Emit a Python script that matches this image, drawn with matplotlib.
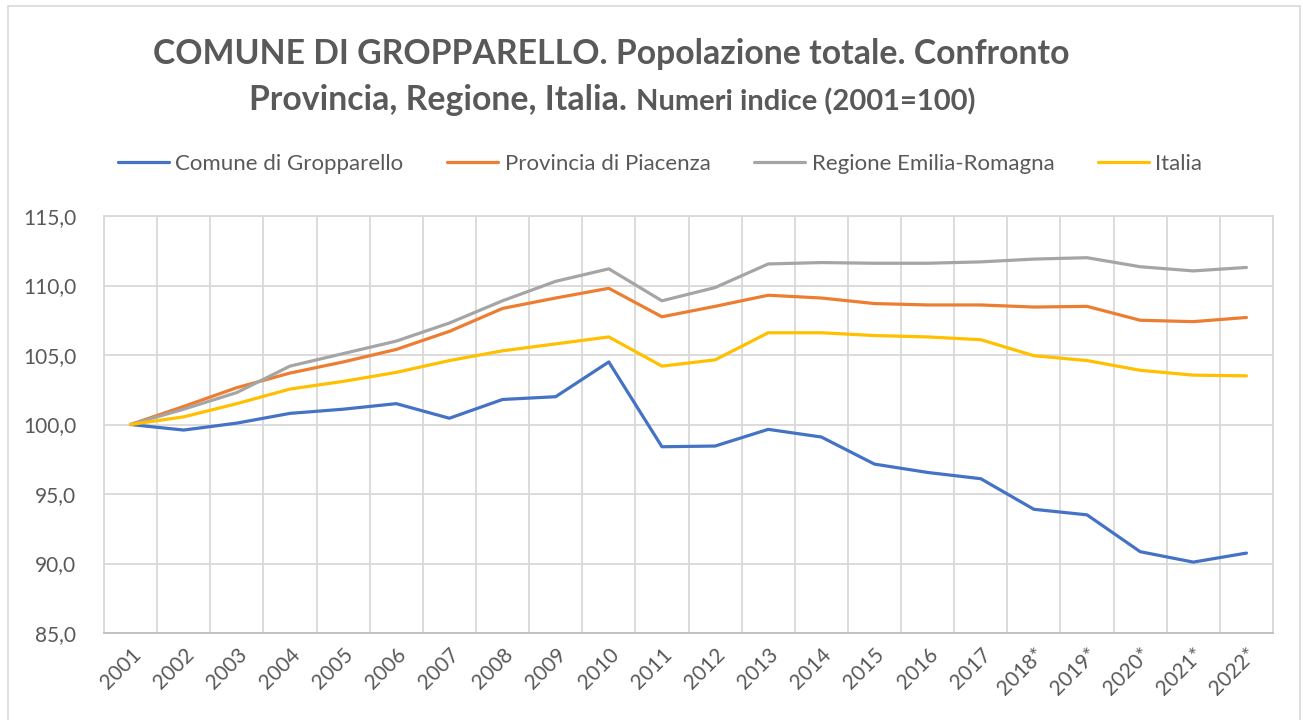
import matplotlib
matplotlib.use("Agg")
import matplotlib.pyplot as plt
from matplotlib.patches import Rectangle
from matplotlib.ticker import FuncFormatter

anni = ["2001", "2002", "2003", "2004", "2005", "2006", "2007", "2008", "2009", "2010",
        "2011", "2012", "2013", "2014", "2015", "2016", "2017", "2018*", "2019*", "2020*",
        "2021*", "2022*"]

comune = [100.0, 99.6, 100.1, 100.8, 101.1, 101.5, 100.45, 101.8, 102.0, 104.5,
          98.4, 98.45, 99.65, 99.1, 97.15, 96.55, 96.1, 93.9, 93.5, 90.85,
          90.1, 90.75]
provincia = [100.0, 101.3, 102.65, 103.7, 104.5, 105.4, 106.7, 108.35, 109.1, 109.8,
             107.75, 108.5, 109.3, 109.1, 108.7, 108.6, 108.6, 108.45, 108.5, 107.5,
             107.4, 107.7]
regione = [100.0, 101.1, 102.3, 104.2, 105.1, 106.0, 107.3, 108.9, 110.3, 111.2,
           108.9, 109.85, 111.55, 111.65, 111.6, 111.6, 111.7, 111.9, 112.0, 111.35,
           111.05, 111.3]
italia = [100.0, 100.55, 101.5, 102.55, 103.1, 103.75, 104.6, 105.3, 105.8, 106.3,
          104.2, 104.65, 106.6, 106.6, 106.4, 106.3, 106.1, 104.95, 104.6, 103.9,
          103.55, 103.5]

serie = [
    ("Comune di Gropparello", comune, "#4472C4"),
    ("Provincia di Piacenza", provincia, "#ED7D31"),
    ("Regione Emilia-Romagna", regione, "#A5A5A5"),
    ("Italia", italia, "#FFC000"),
]

grigio = "#595959"
plt.rcParams["font.family"] = ["Lato", "DejaVu Sans"]

fig = plt.figure(figsize=(13.03, 7.2), dpi=100)
ax = fig.add_axes([104 / 1303, 87 / 720, (1273 - 104) / 1303, (633 - 216) / 720])

x = list(range(len(anni)))
for nome, valori, colore in serie:
    ax.plot(x, valori, color=colore, lw=2.3, label=nome, solid_capstyle="round")

ax.set_xlim(-0.5, len(anni) - 0.5)
ax.set_ylim(85, 115)
ax.set_yticks([85, 90, 95, 100, 105, 110, 115])
ax.yaxis.set_major_formatter(FuncFormatter(lambda v, p: f"{v:.1f}".replace(".", ",")))
ax.set_xticks(x)
ax.set_xticklabels(anni, rotation=45, ha="right", rotation_mode="anchor")
ax.set_xticks([i + 0.5 for i in range(-1, len(anni))], minor=True)

ax.grid(axis="y", color="#d9d9d9", lw=1.3)
ax.grid(axis="x", which="minor", color="#d9d9d9", lw=1.3)
ax.set_axisbelow(True)
ax.tick_params(axis="both", which="both", length=0, colors=grigio, labelsize=15)
ax.tick_params(axis="x", pad=8)
ax.tick_params(axis="y", pad=20)
for s in ax.spines.values():
    s.set_color("#d9d9d9")
    s.set_linewidth(1.3)
ax.spines["bottom"].set_color("#bfbfbf")

# titolo su due righe
fig.text(611 / 1303, 1 - 54 / 720, "COMUNE DI GROPPARELLO. Popolazione totale. Confronto",
         ha="center", va="center", fontsize=24.3, fontweight="bold", color=grigio)
fig.text(627 / 1303, 1 - 100 / 720, "Provincia, Regione, Italia.",
         ha="right", va="center", fontsize=24.3, fontweight="bold", color=grigio)
fig.text(636 / 1303, 1 - 102 / 720, "Numeri indice (2001=100)",
         ha="left", va="center", fontsize=21, fontweight="bold", color=grigio)

fig.legend(loc="center", bbox_to_anchor=(660 / 1303, 1 - 164 / 720), ncol=4,
           frameon=False, fontsize=16, handlelength=2.3, handletextpad=0.3,
           columnspacing=1.95, labelcolor=grigio)

fig.patches.append(Rectangle((8 / 1303, -0.01), (1300 - 8) / 1303, 1.01 - 6 / 720,
                             transform=fig.transFigure, fill=False,
                             edgecolor="#d9d9d9", lw=1.2))

fig.savefig("out.png", dpi=100)
